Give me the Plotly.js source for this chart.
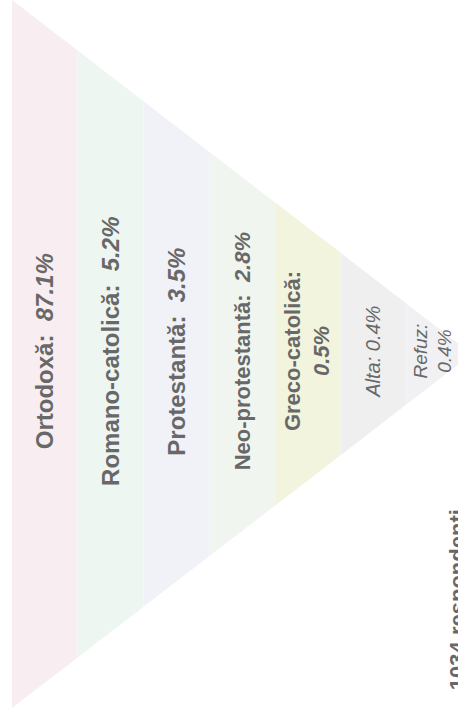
<!DOCTYPE html>
<html>
<head>
<meta charset="utf-8">
<script src="https://cdn.plot.ly/plotly-3.0.1.min.js"></script>
<style>
html,body{margin:0;padding:0;background:#fff;overflow:hidden;}
#chart{width:458px;height:717px;}
</style>
</head>
<body>
<div id="chart"></div>
<script>
// ---- data ----
const categories = ['Ortodoxă', 'Romano-catolică', 'Protestantă', 'Neo-protestantă', 'Greco-catolică', 'Alta', 'Refuz'];
const percents = [87.1, 5.2, 3.5, 2.8, 0.5, 0.4, 0.4];
const respondents = 1034;
const respondentsLabel = 'respondenti';

// ---- style ----
const bandColors = ['#f8eef2', '#eef6f2', '#f1f2f8', '#f0f6ef', '#f2f4de', '#efefef', '#f1f1f4'];
const labelSizes = [24, 24, 24, 22, 22, 20, 19];
const boldLabel = [true, true, true, true, true, false, false];
const wrapLabel = [false, false, false, false, true, false, true];
const textColor = '#686868';
const fontFamily = 'Liberation Sans, Arial, sans-serif';

const N = categories.length;
const H = 5.387; // half height of the funnel at its wide end (axis units)

const traces = categories.map((c, i) => {
  const h0 = H * (N - i) / N;
  const h1 = H * (N - i - 1) / N;
  return {
    type: 'scatter',
    mode: 'lines',
    x: [i, i + 1, i + 1, i, i],
    y: [h0, h1, -h1, -h0, h0],
    fill: 'toself',
    fillcolor: bandColors[i],
    line: {width: 0, color: bandColors[i]},
    hoverinfo: 'skip',
    showlegend: false
  };
});

const annotations = categories.map((c, i) => {
  let txt;
  if (boldLabel[i]) {
    const sep = wrapLabel[i] ? '<br>' : '  ';
    txt = '<b>' + c + ':' + sep + '<i>' + percents[i] + '%</i></b>';
  } else {
    const sep = wrapLabel[i] ? '<br>' : ' ';
    txt = '<i>' + c + ':' + sep + percents[i] + '%</i>';
  }
  return {
    x: i + 0.5,
    y: 0.04,
    xref: 'x',
    yref: 'y',
    text: txt,
    showarrow: false,
    textangle: -90,
    xanchor: 'center',
    yanchor: 'middle',
    xshift: i === N - 1 ? -6 : 0,
    font: {family: fontFamily, size: labelSizes[i], color: textColor}
  };
});

annotations.push({
  x: 457 / 458,
  y: 0.163,
  xref: 'paper',
  yref: 'paper',
  text: '<b>' + respondents + ' ' + respondentsLabel + '</b>',
  showarrow: false,
  textangle: -90,
  xanchor: 'center',
  yanchor: 'middle',
  font: {family: fontFamily, size: 22, color: textColor}
});

const layout = {
  width: 458,
  height: 717,
  margin: {l: 0, r: 0, t: 0, b: 0, pad: 0},
  paper_bgcolor: '#ffffff',
  plot_bgcolor: '#ffffff',
  showlegend: false,
  xaxis: {range: [-0.1826, 6.787], visible: false, fixedrange: true},
  yaxis: {range: [-5.524, 5.387], visible: false, fixedrange: true},
  annotations: annotations
};

Plotly.newPlot('chart', traces, layout, {staticPlot: true, displayModeBar: false});
</script>
</body>
</html>
